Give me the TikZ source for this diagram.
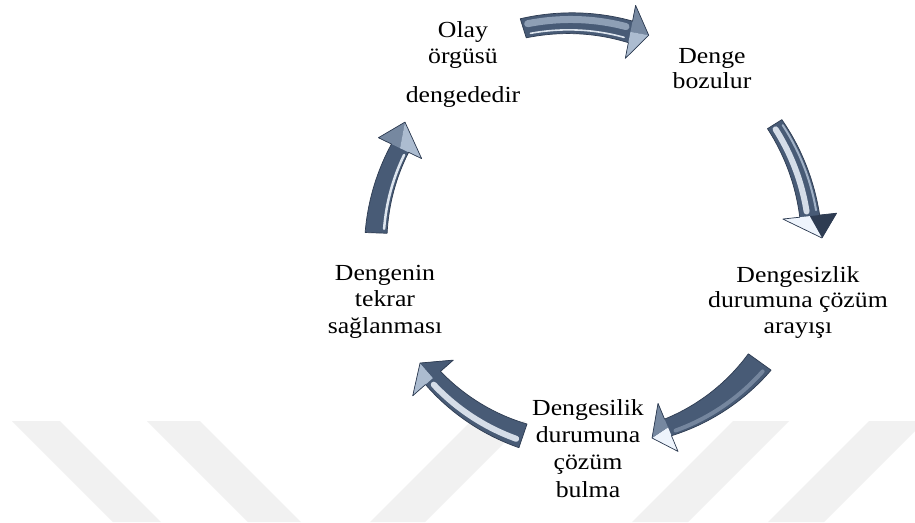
\documentclass[tikz,border=0pt]{standalone}
\usepackage{fontspec}
\setmainfont{Liberation Serif}[FakeStretch=1.12]

\definecolor{steel}{RGB}{72,91,118}
\definecolor{steeldark}{RGB}{46,60,82}
\definecolor{steelmid}{RGB}{118,136,160}
\definecolor{steellight}{RGB}{172,188,208}
\definecolor{gleam}{RGB}{238,244,252}
\definecolor{wmark}{RGB}{241,241,241}

\tikzset{
  cyctext/.style={font=\fontsize{23}{#1}\selectfont, align=center, inner sep=0pt, anchor=base},
  cyctext/.default=26,
  wmband/.style={fill=wmark},
}

% a soft light streak running along the arrow body, offset (fraction of width) from its axis
\newcommand{\gleamline}[4]{%
  \draw[#3, line width=#2pt, opacity=#4, line cap=round]
    plot[domain=0.05:0.95,samples=28,variable=\t]
    ({590+(arrad(\t)+(#1)*arwid(\t))*cos(arang(\t))},{240+(arrad(\t)+(#1)*arwid(\t))*sin(arang(\t))});}

% curved block arrow round the cycle centre (590,240)
% #1 tail angle, #2 neck angle, #3 tip angle, #4 tail radius, #5 neck radius,
% #6 tip radius, #7 tail width, #8 neck width, #9 half width of the head
\newcommand{\cycarrow}[9]{%
  \begin{scope}[declare function={arang(\t)=#1+(#2-#1)*\t; arrad(\t)=#4+(#5-#4)*\t; arwid(\t)=#7+(#8-#7)*\t;}]
    \def\arrowoutline{plot[domain=0:1,samples=32,variable=\t]
        ({590+(arrad(\t)+arwid(\t)/2)*cos(arang(\t))},{240+(arrad(\t)+arwid(\t)/2)*sin(arang(\t))})
      -- ({590+(#5+#9)*cos(#2)},{240+(#5+#9)*sin(#2)})
      -- ({590+#6*cos(#3)},{240+#6*sin(#3)})
      -- ({590+(#5-#9)*cos(#2)},{240+(#5-#9)*sin(#2)})
      -- plot[domain=0:1,samples=32,variable=\t]
        ({590+(arrad(1-\t)-arwid(1-\t)/2)*cos(arang(1-\t))},{240+(arrad(1-\t)-arwid(1-\t)/2)*sin(arang(1-\t))})
      -- cycle}
    \fill[steel] \arrowoutline;
    \arrowgleam
    \fill[\facetout] ({590+(#5+#9)*cos(#2)},{240+(#5+#9)*sin(#2)})
      -- ({590+#6*cos(#3)},{240+#6*sin(#3)})
      -- ({590+#5*cos(#2)},{240+#5*sin(#2)}) -- cycle;
    \fill[\facetin] ({590+(#5-#9)*cos(#2)},{240+(#5-#9)*sin(#2)})
      -- ({590+#6*cos(#3)},{240+#6*sin(#3)})
      -- ({590+#5*cos(#2)},{240+#5*sin(#2)}) -- cycle;
    \draw[steeldark, line width=0.7pt, line join=round] \arrowoutline;
  \end{scope}}

\begin{document}
\begin{tikzpicture}[x=1pt, y=-1pt]
  \useasboundingbox[fill=white] (0,0) rectangle (915,522);

  % faint diagonal bands in the background
  \fill[wmband] (12,421) -- (60,421) -- (161,522) -- (113,522) -- cycle;
  \fill[wmband] (147,421) -- (200,421) -- (301,522) -- (248,522) -- cycle;
  \fill[wmband] (471,421) -- (526,421) -- (425,522) -- (370,522) -- cycle;
  \fill[wmband] (733,421) -- (789,421) -- (688,522) -- (632,522) -- cycle;
  \fill[wmband] (869,421) -- (925,421) -- (824,522) -- (768,522) -- cycle;

  % top arrow
  \def\facetout{steelmid}\def\facetin{steellight}
  \def\arrowgleam{\gleamline{0.18}{7}{steellight}{0.7}\gleamline{-0.32}{1.6}{gleam}{0.9}}
  \cycarrow{252.5}{281}{286}{222}{212}{213}{20}{22}{27}

  % right arrow
  \def\facetout{steeldark}\def\facetin{gleam}
  \def\arrowgleam{\gleamline{-0.12}{6}{gleam}{0.85}\gleamline{0.36}{2}{steellight}{0.9}}
  \cycarrow{-32.1}{-6.2}{-0.5}{218}{221}{232}{17}{20}{27}

  % lower right arrow
  \def\facetout{gleam}\def\facetin{steelmid}
  \def\arrowgleam{\gleamline{0.3}{4}{steellight}{0.45}}
  \cycarrow{35.7}{67.4}{72.6}{209}{203}{207.5}{28}{18}{26}

  % lower left arrow
  \def\facetout{steellight}\def\facetin{steel}
  \def\arrowgleam{\gleamline{0.2}{6}{gleam}{0.85}}
  \cycarrow{108.9}{138.7}{144.1}{207}{209}{209.8}{25}{20}{27}

  % left arrow
  \def\facetout{steelmid}\def\facetin{steellight}
  \def\arrowgleam{\gleamline{-0.35}{2.5}{gleam}{0.9}}
  \cycarrow{181.9}{205.8}{212.5}{214}{211}{219.4}{22}{19}{24}

  % stage labels (placed at the baseline of their last line)
  \node[cyctext] (olay) at (463,102) {Olay\\örgüsü\\[13pt]dengededir};
  \node[cyctext=25] (denge) at (712,88) {Denge\\bozulur};
  \node[cyctext=25.5] (arayis) at (798,333) {Dengesizlik\\durumuna çözüm\\arayışı};
  \node[cyctext=27.3] (bulma) at (588,497) {Dengesilik\\durumuna\\çözüm\\bulma};
  \node[cyctext=26.5] (saglanma) at (385,333) {Dengenin\\tekrar\\sağlanması};
\end{tikzpicture}
\end{document}
